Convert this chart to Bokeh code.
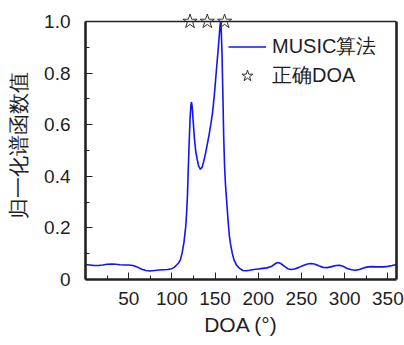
from bokeh.plotting import figure
from bokeh.models import (FixedTicker, Legend, LegendItem, Range1d, Span,
                          LinearAxis, PrintfTickFormatter)
from bokeh.embed import file_html
from bokeh.resources import INLINE

# MUSIC spectrum
doa_deg = [0, 5, 10, 15, 20, 25, 30, 35, 40, 45, 50, 55, 60, 65, 70, 75, 80, 85, 90, 95,
           100, 103, 106, 108, 110, 112, 114, 116, 117, 118, 119, 120, 121, 122, 122.7,
           123.5, 124.5, 126, 127.5, 129, 131, 133, 135, 137, 139, 141, 143, 145, 147,
           149, 151, 153, 154.5, 155.5, 156.3, 157, 158, 159, 160, 161, 162, 163.5, 165,
           166.5, 168, 170, 172, 175, 178, 182, 186, 190, 195, 200, 205, 210, 215, 220,
           223, 226, 230, 234, 238, 242, 247, 252, 257, 261, 265, 270, 275, 280, 285, 290,
           294, 298, 303, 308, 312, 317, 322, 327, 332, 338, 345, 350, 355, 360]
spectrum = [0.058, 0.056, 0.054, 0.054, 0.056, 0.059, 0.060, 0.059, 0.057, 0.056, 0.056,
            0.054, 0.048, 0.040, 0.035, 0.033, 0.035, 0.037, 0.038, 0.039,
            0.042, 0.048, 0.058, 0.065, 0.078, 0.105, 0.145, 0.205, 0.255, 0.325, 0.43,
            0.53, 0.62, 0.675, 0.688,
            0.67, 0.62, 0.55, 0.50, 0.47, 0.44, 0.427, 0.435, 0.46, 0.49, 0.525, 0.56,
            0.60, 0.645, 0.71, 0.79, 0.87, 0.93, 0.975, 1.0, 0.98, 0.88, 0.72, 0.55, 0.44,
            0.37, 0.30, 0.23, 0.17, 0.135, 0.10, 0.075, 0.055, 0.044, 0.035, 0.034, 0.036,
            0.039, 0.041, 0.043, 0.045, 0.050, 0.062,
            0.066, 0.062, 0.052, 0.042, 0.039, 0.041, 0.047, 0.054, 0.060, 0.062, 0.060,
            0.053, 0.047, 0.046, 0.050, 0.054,
            0.055, 0.051, 0.043, 0.038, 0.036, 0.039, 0.045, 0.049, 0.050, 0.049, 0.049,
            0.051, 0.054, 0.058]

true_doa = [121, 141, 161]
true_level = [1.0, 1.0, 1.0]

x_major = [50, 100, 150, 200, 250, 300, 350]
x_minor = [25, 75, 125, 175, 225, 275, 325]
y_major = [0, 0.2, 0.4, 0.6, 0.8, 1.0]
y_minor = [0.1, 0.3, 0.5, 0.7, 0.9]
y_top = 1.0

LINE = "#222222"
TXT = "#1e1e1e"

p = figure(width=404, height=345, x_range=Range1d(0, 360), y_range=Range1d(0, 1.035),
           output_backend="svg", toolbar_location=None,
           min_border_left=85, min_border_right=8, min_border_top=12, min_border_bottom=66)
p.outline_line_color = None
p.grid.visible = False

line_r = p.line(doa_deg, spectrum, line_color="#1414f0", line_width=1.6)
star_r = p.scatter(true_doa, true_level, marker="star", size=15, fill_color=None,
                   line_color="#333333", line_width=1)

# right edge of the box
right_ax = LinearAxis(bounds=(0, y_top), ticker=FixedTicker(ticks=[]),
                      axis_line_color=LINE, axis_line_width=2.6,
                      major_tick_line_color=None, minor_tick_line_color=None,
                      major_label_standoff=0)
p.add_layout(right_ax, "right")
# top edge of the box
p.add_layout(Span(location=y_top, dimension="width", line_color=LINE, line_width=1.4))

for ax in (p.xaxis[0], p.yaxis[0]):
    ax.axis_line_color = LINE
    ax.axis_line_width = 2.6
    ax.major_tick_in = 7
    ax.major_tick_out = 0
    ax.minor_tick_in = 4
    ax.minor_tick_out = 0
    ax.major_tick_line_color = LINE
    ax.minor_tick_line_color = LINE
    ax.major_label_text_font_size = "19px"
    ax.major_label_text_color = TXT
    ax.axis_label_text_font_style = "normal"
    ax.axis_label_text_color = TXT
    ax.axis_label_text_font_size = "21px"

p.yaxis[0].bounds = (0, y_top)
p.xaxis.ticker = FixedTicker(ticks=x_major, minor_ticks=x_minor)
p.yaxis[0].ticker = FixedTicker(ticks=y_major, minor_ticks=y_minor)
p.yaxis[0].formatter = PrintfTickFormatter(format="%.1f")
p.yaxis[0].major_label_overrides = {0: "0"}
p.xaxis.major_label_standoff = 12
p.yaxis[0].major_label_standoff = 15
p.xaxis.axis_label = "DOA (°)"
p.yaxis[0].axis_label = "归一化谱函数值"
p.xaxis.axis_label_standoff = 5
p.yaxis[0].axis_label_standoff = 11

legend = Legend(items=[LegendItem(label="MUSIC算法", renderers=[line_r]),
                       LegendItem(label="正确DOA", renderers=[star_r])],
                location=(143, 189), margin=0, padding=4, spacing=0,
                glyph_width=38, glyph_height=29, label_height=20, label_standoff=6,
                label_text_font_size="20px", label_text_color=TXT,
                border_line_color=None, background_fill_alpha=0)
p.add_layout(legend)

open("out.html", "w").write(file_html(p, INLINE))
